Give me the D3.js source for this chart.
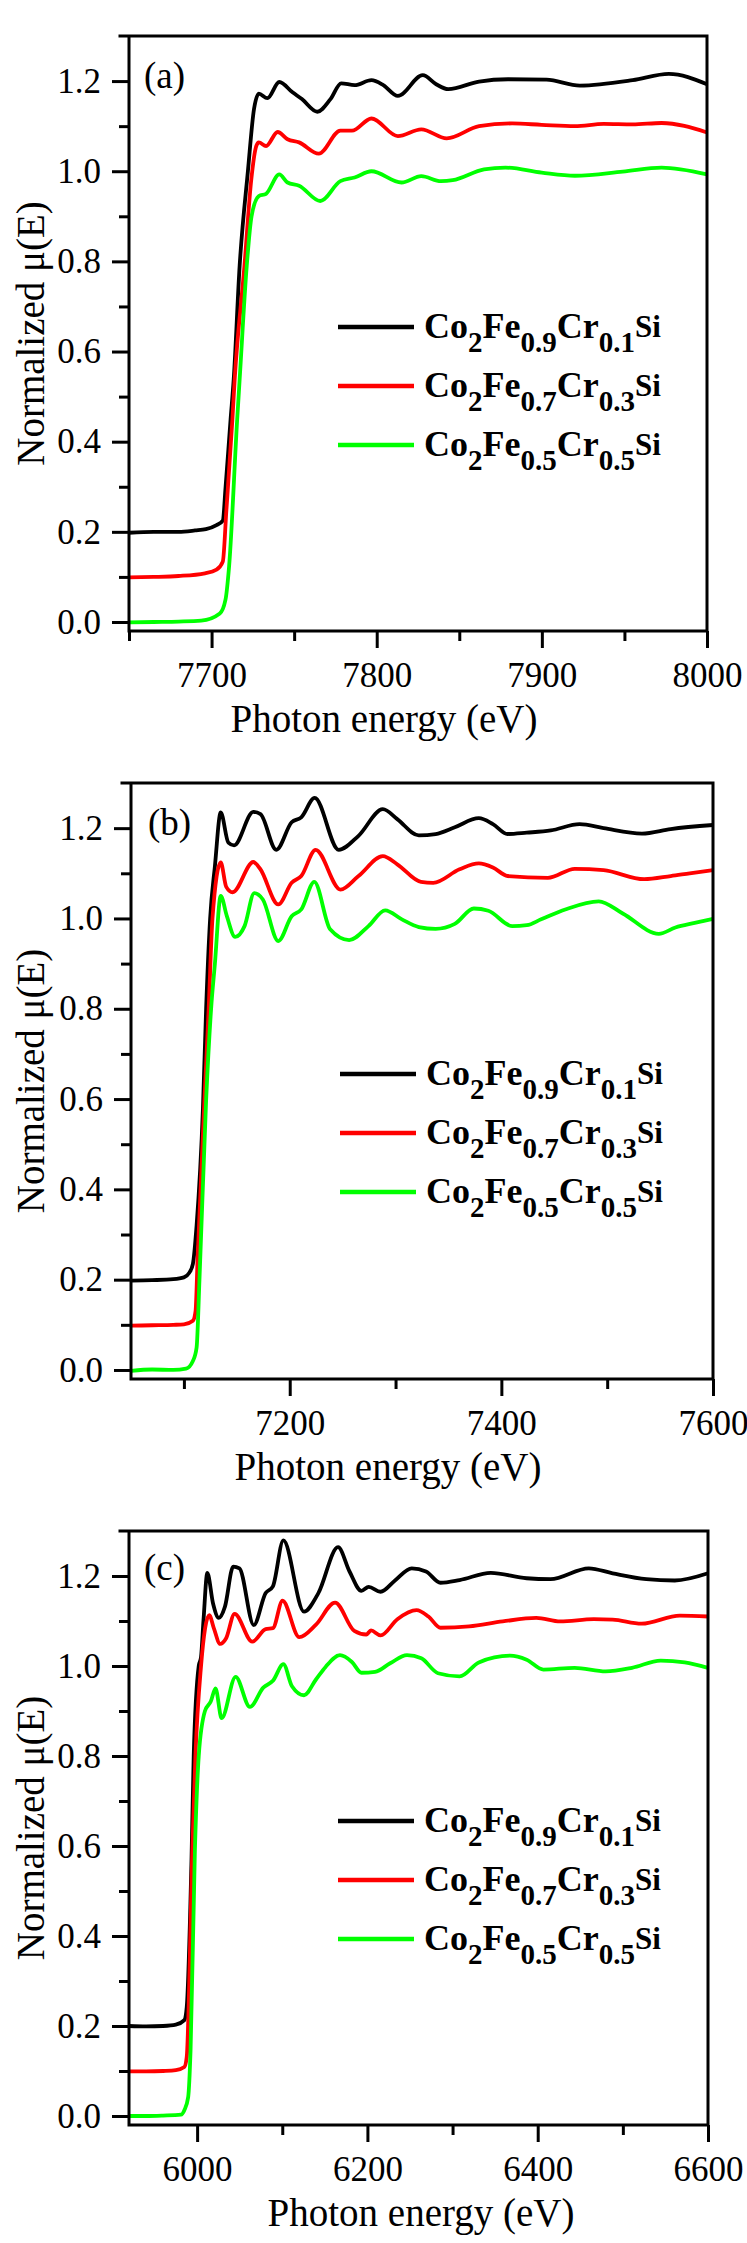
<!DOCTYPE html>
<html><head><meta charset="utf-8">
<script src="https://cdn.jsdelivr.net/npm/d3@7"></script>
<style>body{margin:0;background:#fff} svg{display:block}</style>
</head><body>
<svg id="chart" width="747" height="2243"></svg>
<script>
// ---------- DATA ----------
const seriesNames = [
  [["Co",""],["2","sub"],["Fe",""],["0.9","sub"],["Cr",""],["0.1","sub"],["Si","sup"]],
  [["Co",""],["2","sub"],["Fe",""],["0.7","sub"],["Cr",""],["0.3","sub"],["Si","sup"]],
  [["Co",""],["2","sub"],["Fe",""],["0.5","sub"],["Cr",""],["0.5","sub"],["Si","sup"]]
];
const seriesColors = ["#000000", "#ff0000", "#00ff00"];
const panelLabels = ["(a)", "(b)", "(c)"];
const yMajorTicks = [0.0, 0.2, 0.4, 0.6, 0.8, 1.0, 1.2];
const yMinorTicks = [0.1, 0.3, 0.5, 0.7, 0.9, 1.1];
const yDomain = [-0.02, 1.3];

const aXDomain = [7650, 8000];
const aXMajor = [7700, 7800, 7900, 8000];
const aXMinor = [7650, 7750, 7850, 7950];
const bXDomain = [7050, 7600];
const bXMajor = [7200, 7400, 7600];
const bXMinor = [7100, 7300, 7500];
const cXDomain = [5920, 6600];
const cXMajor = [6000, 6200, 6400, 6600];
const cXMinor = [6100, 6300, 6500];

// panel (a)
const aBlack = [[7650,0.198],[7665,0.2],[7680,0.2],[7690,0.203],[7696.6,0.206],[7703,0.215],[7706.8,0.225],[7708.5,0.3],[7711.5,0.449],[7713.4,0.538],[7717,0.79],[7722,1.0],[7725.7,1.138],[7728.6,1.172],[7733.8,1.162],[7741,1.198],[7749,1.175],[7754.7,1.16],[7764,1.132],[7772,1.16],[7778.5,1.195],[7786.6,1.191],[7796.8,1.202],[7804,1.191],[7812.8,1.167],[7827.9,1.213],[7836,1.193],[7843.3,1.182],[7862,1.199],[7879.5,1.204],[7902.8,1.203],[7923,1.19],[7955,1.202],[7976.9,1.216],[8000,1.193]];
const aRed = [[7650,0.099],[7665,0.1],[7680,0.102],[7696,0.108],[7703,0.116],[7706.8,0.134],[7709,0.25],[7712.6,0.449],[7714,0.538],[7719.9,0.79],[7724,0.98],[7727,1.055],[7728.6,1.064],[7733,1.056],[7740,1.087],[7746,1.071],[7753,1.064],[7764.9,1.039],[7778,1.09],[7785,1.09],[7796.8,1.117],[7812.8,1.078],[7827,1.093],[7842.4,1.073],[7862,1.1],[7882,1.106],[7899.9,1.103],[7920,1.1],[7937.5,1.105],[7955,1.104],[7972.5,1.107],[8000,1.086]];
const aGreen = [[7650,-0.001],[7665,0.0],[7680,0.001],[7693.7,0.003],[7705,0.019],[7708.4,0.049],[7710.6,0.123],[7715.5,0.449],[7717,0.538],[7721.3,0.79],[7724.2,0.9],[7728.6,0.945],[7733,0.95],[7741,0.993],[7746,0.975],[7753,0.968],[7765.8,0.934],[7778,0.978],[7786.6,0.986],[7796.8,1.0],[7815,0.975],[7827,0.989],[7838.9,0.978],[7846,0.98],[7865,1.004],[7878,1.008],[7899.9,0.997],[7920,0.99],[7949,0.999],[7972.5,1.008],[8000,0.993]];

// panel (b)
const bBlack = [[7050,0.198],[7070,0.199],[7090,0.201],[7100,0.205],[7105,0.215],[7108.5,0.235],[7112,0.32],[7118,0.58],[7121,0.8],[7124.8,1.0],[7129.3,1.116],[7134.8,1.235],[7142,1.168],[7147.4,1.162],[7165.6,1.236],[7172.4,1.231],[7187.3,1.152],[7201.8,1.213],[7210.9,1.224],[7223.6,1.267],[7246.3,1.152],[7265,1.183],[7288,1.242],[7301.6,1.22],[7322,1.184],[7337.9,1.187],[7356,1.202],[7378.7,1.222],[7392,1.209],[7405.9,1.187],[7424,1.19],[7446.7,1.195],[7474,1.209],[7496.6,1.2],[7532.9,1.188],[7560,1.198],[7600,1.207]];
const bRed = [[7050,0.098],[7070,0.099],[7090,0.1],[7100,0.101],[7108.5,0.109],[7111,0.13],[7113,0.25],[7119.4,0.598],[7123.4,0.8],[7127,1.0],[7134.8,1.124],[7140,1.07],[7146,1.058],[7165.6,1.125],[7172,1.11],[7189.2,1.031],[7201.8,1.079],[7210.9,1.094],[7224.5,1.152],[7248,1.064],[7265,1.094],[7288,1.138],[7301.6,1.12],[7324,1.081],[7335.6,1.079],[7360.5,1.109],[7378.7,1.122],[7392,1.113],[7405.9,1.094],[7444,1.09],[7469.4,1.11],[7496.6,1.107],[7535,1.087],[7560,1.094],[7578,1.1],[7600,1.107]];
const bGreen = [[7050,-0.002],[7070,0.001],[7090,0.0],[7102,0.003],[7108.5,0.02],[7112,0.05],[7114.7,0.2],[7121,0.598],[7125.7,0.8],[7129.3,0.9],[7134.8,1.05],[7140.6,1.005],[7148.4,0.959],[7157.3,0.983],[7166.5,1.056],[7174.6,1.042],[7189.2,0.95],[7201.8,1.005],[7210.9,1.02],[7223.2,1.081],[7238.2,0.976],[7256.2,0.952],[7274.4,0.983],[7290.2,1.018],[7306,0.998],[7322,0.981],[7337.9,0.977],[7356,0.988],[7374,1.022],[7387.7,1.017],[7410.4,0.983],[7424,0.985],[7437.6,0.998],[7460.4,1.02],[7492,1.038],[7514.7,1.011],[7548.8,0.966],[7564.5,0.98],[7582.7,0.99],[7600,0.999]];

// panel (c)
const cBlack = [[5920,0.2],[5940,0.199],[5960,0.2],[5975,0.203],[5985,0.213],[5987.8,0.242],[5993.4,0.569],[5996,0.8],[6001.9,1.0],[6004.6,1.02],[6007.5,1.102],[6012,1.207],[6018.7,1.139],[6025.5,1.107],[6032.7,1.132],[6042.4,1.221],[6049.7,1.217],[6066.5,1.091],[6080.5,1.162],[6089,1.177],[6101.3,1.279],[6125.5,1.121],[6142.4,1.162],[6165.5,1.264],[6179,1.21],[6193,1.167],[6201.5,1.176],[6215.5,1.165],[6232.4,1.19],[6252,1.217],[6268.8,1.21],[6285.8,1.185],[6308.3,1.191],[6344.9,1.207],[6387,1.195],[6415,1.193],[6460,1.217],[6488,1.206],[6527.6,1.193],[6561,1.19],[6600,1.206]];
const cRed = [[5920,0.099],[5940,0.099],[5960,0.1],[5975,0.102],[5985,0.109],[5987.8,0.131],[5994.4,0.591],[5998,0.8],[6004.6,1.0],[6014.2,1.113],[6019.8,1.083],[6027,1.049],[6033.9,1.061],[6044,1.116],[6064.8,1.054],[6080.5,1.082],[6089,1.084],[6100.3,1.145],[6120,1.064],[6139.6,1.092],[6162,1.141],[6184.6,1.078],[6198.7,1.07],[6204.2,1.079],[6215.5,1.068],[6235.2,1.104],[6257.7,1.124],[6271.7,1.11],[6285.8,1.085],[6319.5,1.088],[6358.9,1.099],[6398.3,1.107],[6426.4,1.099],[6465.8,1.104],[6488,1.103],[6522,1.094],[6567,1.112],[6600,1.11]];
const cGreen = [[5920,0.0],[5940,0.0],[5960,0.001],[5981,0.003],[5985,0.013],[5989.5,0.042],[5992.3,0.146],[5997.4,0.591],[6001.9,0.8],[6009.2,0.9],[6016,0.921],[6021.6,0.95],[6028.8,0.884],[6045.2,0.976],[6062,0.909],[6077.7,0.952],[6089,0.967],[6101.3,1.004],[6111.4,0.955],[6125.5,0.935],[6139.6,0.97],[6150.9,0.998],[6167.8,1.024],[6181.8,1.009],[6193,0.985],[6209,0.987],[6226.7,1.006],[6246.5,1.024],[6263.3,1.017],[6282.9,0.984],[6308.3,0.977],[6330.8,1.008],[6367.4,1.023],[6387,1.014],[6406.7,0.992],[6443.3,0.996],[6479.9,0.988],[6510.7,0.996],[6544.5,1.012],[6572.6,1.008],[6600,0.996]];

// ---------- LAYOUT ----------
const panels = [
  {label: panelLabels[0], xDomain: aXDomain, xMajor: aXMajor, xMinor: aXMinor, series: [aBlack, aRed, aGreen],
   box: {l: 129, r: 707, t: 36, b: 631}, labelXY: [144, 88], legend: {x: 338, y: 327}, titleX: 384},
  {label: panelLabels[1], xDomain: bXDomain, xMajor: bXMajor, xMinor: bXMinor, series: [bBlack, bRed, bGreen],
   box: {l: 131, r: 713, t: 783, b: 1379}, labelXY: [148, 835], legend: {x: 340, y: 1074}, titleX: 388},
  {label: panelLabels[2], xDomain: cXDomain, xMajor: cXMajor, xMinor: cXMinor, series: [cBlack, cRed, cGreen],
   box: {l: 129, r: 708, t: 1531, b: 2125}, labelXY: [144, 1580], legend: {x: 338, y: 1821}, titleX: 421}
];

const FONT = "'Liberation Serif','Times New Roman',Times,serif";
const svg = d3.select("#chart");

panels.forEach(p => {
  const {l, r, t, b} = p.box;
  const x = d3.scaleLinear().domain(p.xDomain).range([l, r]);
  const y = d3.scaleLinear().domain(yDomain).range([b, t]);
  const g = svg.append("g");

  // data lines
  const line = d3.line().x(d => x(d[0])).y(d => y(d[1])).curve(d3.curveMonotoneX);
  p.series.forEach((s, i) => {
    g.append("path").datum(s).attr("d", line)
      .attr("fill", "none").attr("stroke", seriesColors[i])
      .attr("stroke-width", 3.8).attr("stroke-linejoin", "round");
  });

  // axes
  const yMajor = g.append("g").attr("transform", `translate(${l},0)`)
    .call(d3.axisLeft(y).tickValues(yMajorTicks).tickSize(17).tickPadding(11).tickFormat(d3.format(".1f")));
  const yMinor = g.append("g").attr("transform", `translate(${l},0)`)
    .call(d3.axisLeft(y).tickValues(yMinorTicks).tickSize(10).tickFormat(""));
  const xMajor = g.append("g").attr("transform", `translate(0,${b})`)
    .call(d3.axisBottom(x).tickValues(p.xMajor).tickSize(17).tickPadding(14).tickFormat(d3.format("d")));
  const xMinor = g.append("g").attr("transform", `translate(0,${b})`)
    .call(d3.axisBottom(x).tickValues(p.xMinor).tickSize(10).tickFormat(""));
  [yMajor, yMinor, xMajor, xMinor].forEach(ax => {
    ax.select(".domain").remove();
    ax.selectAll(".tick line").attr("stroke", "#000").attr("stroke-width", 3);
    ax.selectAll("text").attr("font-family", FONT).attr("font-size", 35).attr("fill", "#000");
  });

  // frame
  g.append("path")
    .attr("d", `M${l - 9},${t}H${r}V${b}H${l}V${t}`)
    .attr("fill", "none").attr("stroke", "#000").attr("stroke-width", 3).attr("stroke-linecap", "square");

  // panel label
  g.append("text").attr("x", p.labelXY[0]).attr("y", p.labelXY[1])
    .attr("font-family", FONT).attr("font-size", 37).text(p.label);

  // axis titles
  g.append("text").attr("x", p.titleX).attr("y", b + 101).attr("text-anchor", "middle")
    .attr("font-family", FONT).attr("font-size", 39).text("Photon energy (eV)");
  g.append("text").attr("transform", `translate(44,${(t + b) / 2}) rotate(-90)`)
    .attr("text-anchor", "middle").attr("font-family", FONT).attr("font-size", 39)
    .text("Normalized \u03bc(E)");

  // legend
  seriesNames.forEach((parts, i) => {
    const ly = p.legend.y + i * 59;
    g.append("line").attr("x1", p.legend.x).attr("x2", p.legend.x + 76)
      .attr("y1", ly).attr("y2", ly).attr("stroke", seriesColors[i]).attr("stroke-width", 4.5);
    const txt = g.append("text").attr("x", p.legend.x + 86).attr("y", ly + 11)
      .attr("font-family", FONT).attr("font-weight", "bold").attr("font-size", 36);
    let prev = "";
    parts.forEach(([s, kind]) => {
      const ts = txt.append("tspan").text(s);
      let dy = 0;
      if (kind === "sub") { ts.attr("font-size", 29); dy = (prev === "sub" ? 0 : 14); }
      else if (kind === "sup") { ts.attr("font-size", 31); dy = (prev === "sub" ? -14 : 0) - 1; }
      else { dy = (prev === "sub" ? -14 : 0); }
      if (dy) ts.attr("dy", dy);
      prev = kind;
    });
  });
});
</script>
</body></html>
